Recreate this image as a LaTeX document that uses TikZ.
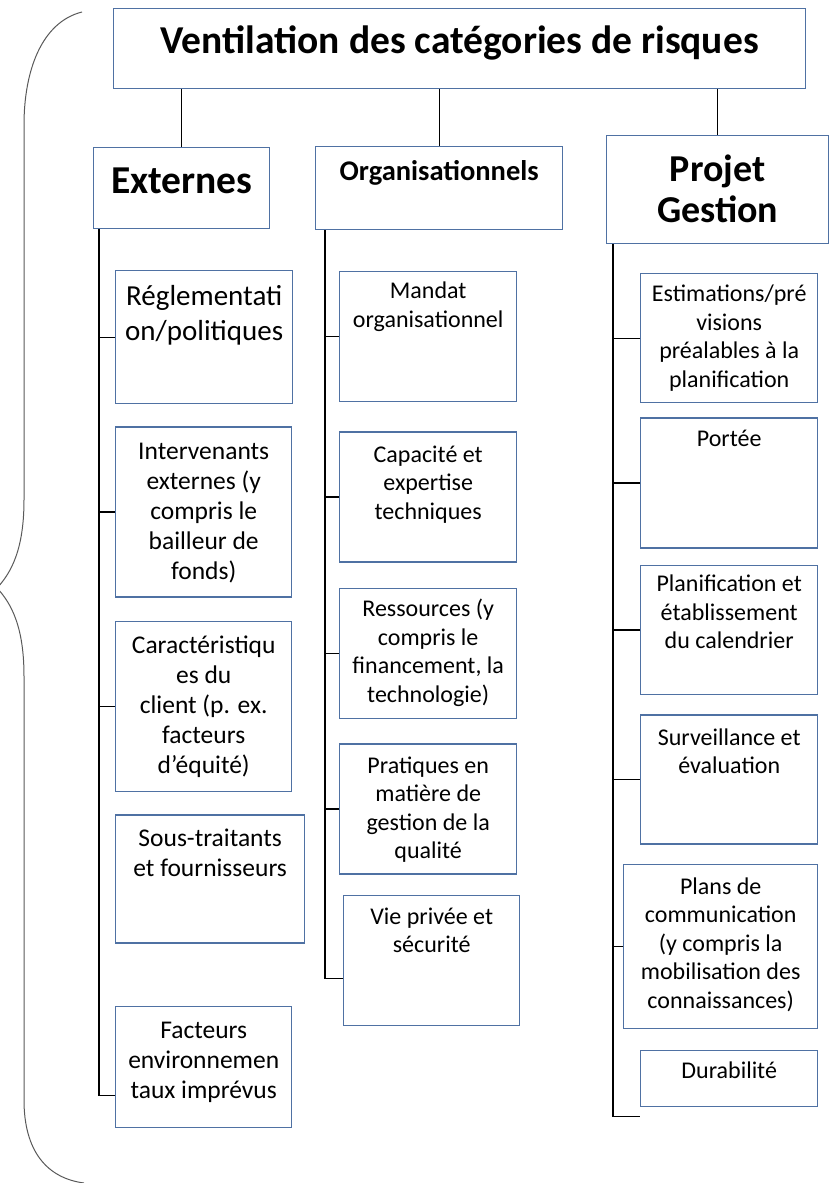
\documentclass[tikz,border=0pt]{standalone}
\usepackage{fontspec}
\setmainfont{Carlito}
\usetikzlibrary{positioning, calc}
\definecolor{boxblue}{RGB}{79,113,163}

\begin{document}
\begin{tikzpicture}[
  x=1pt, y=-1pt,
  item/.style={draw=boxblue, line width=1.4pt, inner sep=0pt, anchor=north west},
  txt/.style={anchor=north, align=center, inner sep=0pt,
              font=\fontsize{24}{28.5}\selectfont},
  txtE/.style={txt, font=\fontsize{25.5}{30}\selectfont},
  head/.style={align=center, inner sep=0pt, font=\bfseries\fontsize{38}{41}\selectfont},
  link/.style={line width=1.3pt},
  brace/.style={black!65, line width=1pt},
]
\useasboundingbox (0,0) rectangle (830,1183);

% headers
\node[item, minimum width=692, minimum height=80] (title) at (113,8) {};
\node[item, minimum width=176, minimum height=81] (ext) at (93,147) {};
\node[item, minimum width=247, minimum height=83] (org) at (315,146) {};
\node[item, minimum width=222, minimum height=108] (proj) at (606,135) {};

\node[head, font=\bfseries\fontsize{39.5}{41}\selectfont] (title-t)
  at ($(title.north)+(0,35)$) {Ventilation des catégories de risques};
\node[head, font=\bfseries\fontsize{39.5}{41}\selectfont] (ext-t)
  at ($(ext.north)+(0,34)$) {Externes};
\node[head, font=\bfseries\fontsize{28.5}{30}\selectfont] (org-t)
  at ($(org.north)+(0,27)$) {Organisationnels};
\node[head] (proj-t) at ($(proj.center)+(0,-1)$) {Projet\\Gestion};

% externes
\node[item, minimum width=177, minimum height=133] (reg) at (115,270) {};
\node[item, minimum width=176, minimum height=170, below=22pt of reg.south west,
      anchor=north west] (int) {};
\node[item, minimum width=176, minimum height=170, below=23pt of int.south west,
      anchor=north west] (car) {};
\node[item, minimum width=189, minimum height=128, below=22pt of car.south west,
      anchor=north west] (sous) {};
\node[item, minimum width=176, minimum height=121, below=62pt of sous.south west,
      anchor=north west] (fac) {};

\node[txtE, font=\fontsize{29}{35}\selectfont] (reg-t) at ($(reg.north)+(0,15)$)
  {Réglementati\\on/politiques};
\node[txtE] (int-t) at ($(int.north)+(0,17)$)
  {Intervenants\\externes (y\\compris le\\bailleur de\\fonds)};
\node[txtE] (car-t) at ($(car.north)+(0,15)$)
  {Caractéristiqu\\es du\\client (p. ex.\\facteurs\\d’équité)};
\node[txtE] (sous-t) at ($(sous.north)+(0,15)$) {Sous-traitants\\et fournisseurs};
\node[txtE] (fac-t) at ($(fac.north)+(0,16)$) {Facteurs\\environnemen\\taux imprévus};

% organisationnels
\node[item, minimum width=177, minimum height=130] (mand) at (339,271) {};
\node[item, minimum width=177, minimum height=130, below=29pt of mand.south west,
      anchor=north west] (cap) {};
\node[item, minimum width=177, minimum height=130, below=25pt of cap.south west,
      anchor=north west] (res) {};
\node[item, minimum width=177, minimum height=130, below=24pt of res.south west,
      anchor=north west] (prat) {};
\node[item, minimum width=176, minimum height=130, below=20pt of prat.south west,
      anchor=north west, xshift=4pt] (vie) {};

\node[txt] (mand-t) at ($(mand.north)+(0,11)$) {Mandat\\organisationnel};
\node[txt] (cap-t) at ($(cap.north)+(0,14)$) {Capacité et\\expertise\\techniques};
\node[txt] (res-t) at ($(res.north)+(0,11)$)
  {Ressources (y\\compris le\\financement, la\\technologie)};
\node[txt] (prat-t) at ($(prat.north)+(0,13)$)
  {Pratiques en\\matière de\\gestion de la\\qualité};
\node[txt] (vie-t) at ($(vie.north)+(0,13)$) {Vie privée et\\sécurité};

% projet gestion
\node[item, minimum width=177, minimum height=129] (est) at (640,273) {};
\node[item, minimum width=177, minimum height=130, below=14pt of est.south west,
      anchor=north west] (port) {};
\node[item, minimum width=177, minimum height=129, below=16pt of port.south west,
      anchor=north west] (plan) {};
\node[item, minimum width=177, minimum height=129, below=19pt of plan.south west,
      anchor=north west] (surv) {};
\node[item, minimum width=194, minimum height=164, below=19pt of surv.south west,
      anchor=north west, xshift=-17pt] (comm) {};
\node[item, minimum width=177, minimum height=56, below=21pt of comm.south east,
      anchor=north east] (dur) {};

\node[txt] (est-t) at ($(est.north)+(0,12)$)
  {Estimations/pré\\visions\\préalables à la\\planification};
\node[txt] (port-t) at ($(port.north)+(0,12)$) {Portée};
\node[txt] (plan-t) at ($(plan.north)+(0,10)$)
  {Planification et\\établissement\\du calendrier};
\node[txt] (surv-t) at ($(surv.north)+(0,14)$) {Surveillance et\\évaluation};
\node[txt] (comm-t) at ($(comm.north)+(0,14)$)
  {Plans de\\communication\\(y compris la\\mobilisation des\\connaissances)};
\node[txt] (dur-t) at ($(dur.north)+(0,12)$) {Durabilité};

% links from the title
\draw[link] (title.south -| ext.north) -- (ext.north);
\draw[link] (title.south -| org.north) -- (org.north);
\draw[link] (title.south -| proj.north) -- (proj.north);

% trunks
\coordinate (extT) at ($(ext.south west)+(6,0)$);
\coordinate (orgT) at ($(org.south west)+(10,0)$);
\coordinate (projT) at ($(proj.south west)+(7,0)$);

\draw[link] (extT) |- ($(fac.west)+(0,29)$);
\draw[link] (reg.west) -- (reg.west -| extT);
\draw[link] (int.west) -- (int.west -| extT);
\draw[link] (car.west) -- (car.west -| extT);
\draw[link] ($(sous.west)+(0,20)$) -- ($(sous.west)+(0,20)$ -| extT);

\draw[link] (orgT) |- ($(vie.west)+(0,18)$);
\draw[link] (mand.west) -- (mand.west -| orgT);
\draw[link] (cap.west) -- (cap.west -| orgT);
\draw[link] (res.west) -- (res.west -| orgT);
\draw[link] (prat.west) -- (prat.west -| orgT);

\draw[link] (projT) |- ($(dur.south west)+(0,9)$);
\draw[link] (est.west) -- (est.west -| projT);
\draw[link] (port.west) -- (port.west -| projT);
\draw[link] (plan.west) -- (plan.west -| projT);
\draw[link] (surv.west) -- (surv.west -| projT);
\draw[link] (comm.west) -- (comm.west -| projT);

% brace on the left
\draw[brace] (82,12) .. controls (42,22) and (24,70) .. (24,125) -- (24,500)
  .. controls (24,548) and (12,572) .. (-3,588)
  .. controls (12,604) and (24,628) .. (24,676) -- (24,1100)
  .. controls (24,1150) and (46,1178) .. (84,1183);
\end{tikzpicture}
\end{document}
